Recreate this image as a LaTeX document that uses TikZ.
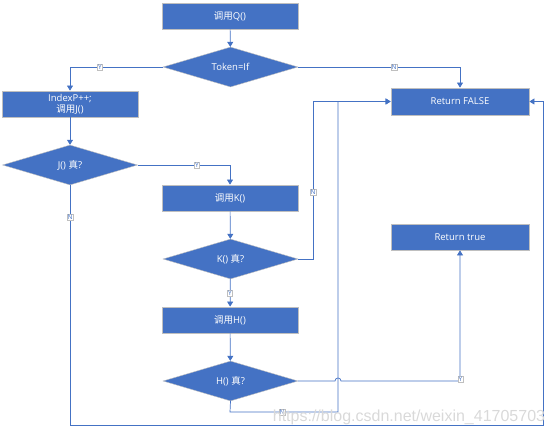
\documentclass[tikz,border=0pt]{standalone}
\usepackage{fontspec}
\setmainfont{Open Sans}
\newfontfamily\cjk{Noto Sans CJK SC}
\newfontfamily\wmfont{Liberation Sans}
\usetikzlibrary{shapes.geometric,arrows.meta}
\definecolor{boxblue}{HTML}{4472C4}
\definecolor{boxedge}{HTML}{BFBFBF}

\begin{document}
\begin{tikzpicture}[x=1pt,y=-1pt,
    every node/.style={font=\fontsize{9.5}{11}\selectfont},
    procbox/.style={rectangle,fill=boxblue,draw=boxedge,line width=0.8pt,text=white,
        minimum width=136pt,minimum height=26pt,inner sep=0pt,align=center},
    testbox/.style={diamond,fill=boxblue,draw=boxedge,line width=0.4pt,text=white,
        aspect=3.4,minimum width=135pt,minimum height=40pt,inner sep=0pt},
    flow/.style={draw=boxblue,line width=0.7pt},
    arr/.style={flow,-{Triangle[width=6pt,length=5pt]}},
    lbl/.style={fill=white,draw=boxedge,line width=0.3pt,text=boxblue,
        inner sep=0.8pt,font=\fontsize{6.5}{6.5}\selectfont}]
    \useasboundingbox (0,0) rectangle (555,435);
    % boxes and tests, centre coordinates
    \node[procbox] (q) at (230,16) {{\cjk 调用}Q()};
    \node[testbox] (tok) at (230.5,67) {Token=If};
    \node[procbox] (idx) at (70,104) {IndexP++;\\{\cjk 调用}J()};
    \node[testbox] (jd) at (70,165) {J() {\cjk 真}?};
    \node[procbox] (k) at (230,198) {{\cjk 调用}K()};
    \node[testbox] (kd) at (230.5,259) {K() {\cjk 真}?};
    \node[procbox] (h) at (230,320) {{\cjk 调用}H()};
    \node[testbox] (hd) at (230.5,381) {H() {\cjk 真}?};
    \node[procbox,minimum width=138pt,minimum height=27pt] (fls) at (460,101.5) {Return FALSE};
    \node[procbox,minimum width=138pt] (tru) at (460,237) {Return true};
    % bends of the long connectors
    \coordinate (jb) at (70,425);
    \coordinate (rb) at (543,425);
    \coordinate (kn) at (313,259);
    \coordinate (hn1) at (230,412);
    \coordinate (hn2) at (338,412);
    \coordinate (hop1) at (335,381); % line hop over the H() N line
    \coordinate (hop2) at (341,381);
    % connectors
    \draw[arr] (q) -- (tok);
    \draw[arr] (tok.west) -| (idx.north);
    \draw[arr] (tok.east) -| (fls.north);
    \draw[arr] (idx) -- (jd);
    \draw[arr] (jd.east) -| (k.north);
    \draw[arr] (jd.south) -- (jb) -- (rb) |- (fls.east);
    \draw[arr] (k) -- (kd);
    \draw[arr] (kd.east) -- (kn) |- (fls.west);
    \draw[arr] (kd) -- (h);
    \draw[arr] (h) -- (hd);
    \draw[arr] (hd.south) -- (hn1) -- (hn2) |- (fls.west);
    \draw[arr] (hd.east) -- (hop1) .. controls (335,377) and (341,377) .. (hop2) -| (tru.south);
    % Y / N labels
    \node[lbl] (ytok) at (100,67) {Y};
    \node[lbl] (ntok) at (394,67) {N};
    \node[lbl] (yj) at (197,165) {Y};
    \node[lbl] (nj) at (70,217) {N};
    \node[lbl] (nk) at (313,192) {N};
    \node[lbl] (yk) at (230,293) {Y};
    \node[lbl] (nh) at (282,412) {N};
    \node[lbl] (yh) at (460.5,379) {Y};
    % watermark
    \node[text=gray!30,font=\wmfont\fontsize{16}{16}\selectfont,inner sep=0pt] (wm) at (409,417) {https://blog.csdn.net/weixin\_41705703};
\end{tikzpicture}
\end{document}
